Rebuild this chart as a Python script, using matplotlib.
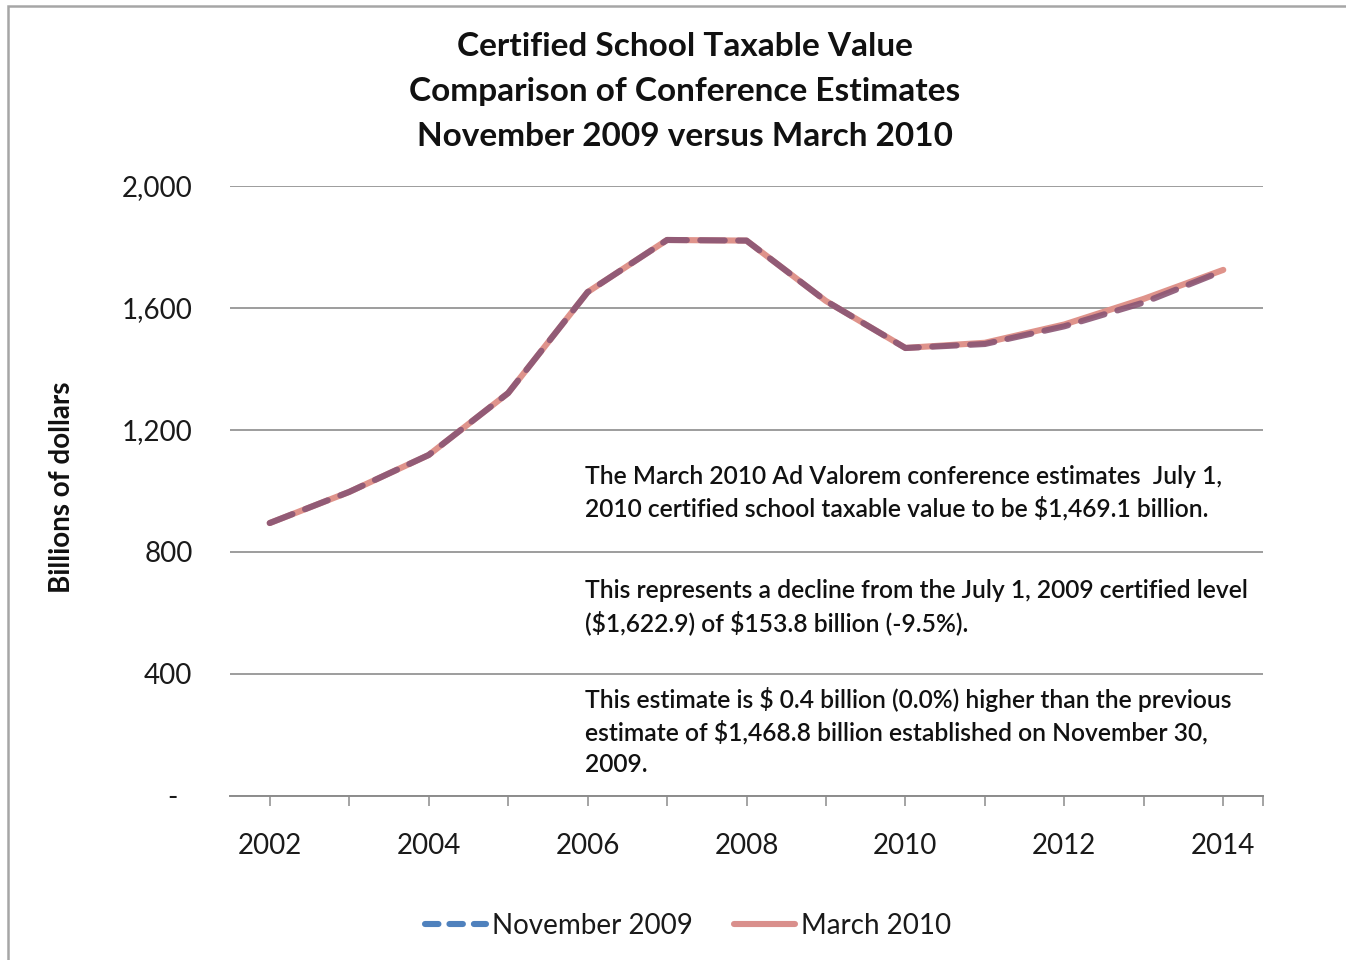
import matplotlib
matplotlib.use("Agg")
import matplotlib.pyplot as plt
from matplotlib.lines import Line2D
from matplotlib.patches import Rectangle
from matplotlib.ticker import FixedLocator

plt.rcParams['font.family'] = ['Lato', 'DejaVu Sans']

years = [2002, 2003, 2004, 2005, 2006, 2007, 2008, 2009, 2010, 2011, 2012, 2013, 2014]
nov_2009 = [895, 997, 1118, 1321, 1652, 1823, 1821, 1622.9, 1468.8, 1482, 1540, 1618, 1722]
mar_2010 = [895, 997, 1118, 1321, 1652, 1823, 1821, 1622.9, 1469.1, 1486, 1546, 1630, 1725]
y_ticks = [0, 400, 800, 1200, 1600, 2000]
y_tick_labels = ['-  ', '400', '800', '1,200', '1,600', '2,000']
x_ticks = [2002, 2004, 2006, 2008, 2010, 2012, 2014]

title_lines = ["Certified School Taxable Value",
               "Comparison of Conference Estimates",
               "November 2009 versus March 2010"]
note_lines = [
    ("The March 2010 Ad Valorem conference estimates  July 1,", 476),
    ("2010 certified school taxable value to be \\$1,469.1 billion.", 508),
    ("This represents a decline from the July 1, 2009 certified level", 591),
    ("(\\$1,622.9) of \\$153.8 billion (-9.5%).", 623),
    ("This estimate is \\$ 0.4 billion (0.0%) higher than the previous", 699),
    ("estimate of \\$1,468.8 billion established on November 30,", 732),
    ("2009.", 764),
]

W, H = 1346, 960
fig = plt.figure(figsize=(W / 100, H / 100), dpi=100)
fig.patch.set_facecolor('white')

def fx(px):
    return px / W

def fy(py):
    return 1 - py / H

ax = fig.add_axes([fx(230), fy(796), fx(1263) - fx(230), fy(186) - fy(796)])

pink = '#DF938B'
mauve = '#8A5574'
blue = '#4F81BD'

ax.plot(years, mar_2010, color=pink, lw=4.4, solid_capstyle='round', zorder=3)
ax.plot(years, nov_2009, color=mauve, lw=4.4, dashes=(4.0, 2.2),
        dash_capstyle='round', alpha=0.9, zorder=4)

ax.set_xlim(2001.5, 2014.5)
ax.set_ylim(0, 2000)
ax.set_yticks(y_ticks)
ax.set_yticklabels(y_tick_labels)
ax.set_xticks(x_ticks)
ax.set_xticklabels([str(x) for x in x_ticks])
ax.xaxis.set_minor_locator(FixedLocator([2003, 2005, 2007, 2009, 2011, 2013, 2014.5]))

ax.grid(axis='y', color='#8C8C8C', lw=1.2)
ax.set_axisbelow(True)
for s in ['left', 'right', 'top']:
    ax.spines[s].set_visible(False)
ax.spines['bottom'].set_color('#8C8C8C')
ax.spines['bottom'].set_linewidth(1.4)

ax.tick_params(axis='y', length=0, pad=27, labelsize=20, labelcolor='#1a1a1a')
ax.tick_params(axis='x', which='both', direction='out', length=7, width=1.1,
               color='#8C8C8C', labelsize=20, pad=20, labelcolor='#1a1a1a')

fig.text(fx(62), fy(487), 'Billions of dollars', rotation=90, ha='center',
         va='center', fontsize=20, fontweight='bold', color='#111111')

for line, yc in zip(title_lines, [46, 91, 136]):
    fig.text(fx(685), fy(yc), line, ha='center', va='center', fontsize=24,
             fontweight='bold', color='#111111')

for line, yc in note_lines:
    fig.text(fx(585), fy(yc), line, ha='left', va='center', fontsize=17.7,
             fontweight='semibold', color='#111111')

handles = [Line2D([], [], color=blue, lw=4.4, dashes=(2.2, 1.8), dash_capstyle='round'),
           Line2D([], [], color='#D98F8C', lw=4.4, solid_capstyle='round')]
fig.legend(handles, ['November 2009', 'March 2010'], loc='center',
           bbox_to_anchor=(fx(688), fy(926)), ncol=2, frameon=False,
           fontsize=20, handlelength=2.2, handletextpad=0.2, columnspacing=1.5,
           labelcolor='#1a1a1a')

fig.patches.append(Rectangle((fx(8), -0.1), 1.2, fy(6) + 0.1, transform=fig.transFigure,
                             fill=False, edgecolor='#A6A6A6', lw=1.8, clip_on=False))

fig.savefig('out.png', dpi=100)
